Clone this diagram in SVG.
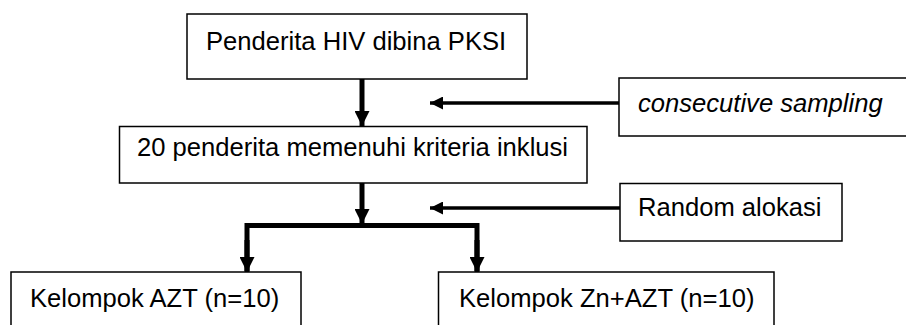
<svg xmlns="http://www.w3.org/2000/svg" width="906" height="325" viewBox="0 0 906 325">
<defs>
<style>
.box{fill:#fff;stroke:#000;stroke-width:1.5}
.t{font-family:"Liberation Sans",Arial,sans-serif;font-size:25.6px;fill:#000}
.it{font-style:italic}
.main{fill:none;stroke:#000;stroke-width:5}
.side{fill:none;stroke:#000;stroke-width:3.5}
</style>
<marker id="ah" viewBox="0 0 10 10" refX="10" refY="5" markerUnits="userSpaceOnUse" markerWidth="15" markerHeight="15" orient="auto"><path d="M0,0 L10,5 L0,10 Z" fill="#000"/></marker>
<marker id="ahs" viewBox="0 0 10 10" refX="10" refY="5" markerUnits="userSpaceOnUse" markerWidth="13" markerHeight="13" orient="auto"><path d="M0,0 L10,5 L0,10 Z" fill="#000"/></marker>
</defs>
<rect width="906" height="325" fill="#fff"/>
<g id="connectors">
<path class="main" d="M362,79 V126" marker-end="url(#ah)"/>
<path class="main" d="M362,183 V224" marker-end="url(#ah)"/>
<path class="main" d="M247,271 V225.5 H477 V271" />
<path class="main" d="M247,240 V272" marker-end="url(#ah)"/>
<path class="main" d="M477,240 V272" marker-end="url(#ah)"/>
<path class="side" d="M619,103 H430" marker-end="url(#ahs)"/>
<path class="side" d="M620,208 H430" marker-end="url(#ahs)"/>
</g>
<g id="n1"><rect class="box" x="187" y="14" width="340" height="65"/><text class="t" x="206" y="50">Penderita HIV dibina PKSI</text></g>
<g id="n2"><rect class="box" x="119.5" y="126.5" width="467.5" height="56.5"/><text class="t" x="137" y="156">20 penderita memenuhi kriteria inklusi</text></g>
<g id="n3"><rect class="box" x="619" y="78" width="300" height="58"/><text class="t it" x="638" y="112">consecutive sampling</text></g>
<g id="n4"><rect class="box" x="620" y="183.5" width="222" height="57.5"/><text class="t" x="638" y="216">Random alokasi</text></g>
<g id="n5"><rect class="box" x="11" y="272" width="290" height="70"/><text class="t" x="30" y="307">Kelompok AZT (n=10)</text></g>
<g id="n6"><rect class="box" x="438.5" y="272" width="335.5" height="70"/><text class="t" x="459" y="307">Kelompok Zn+AZT (n=10)</text></g>
</svg>
